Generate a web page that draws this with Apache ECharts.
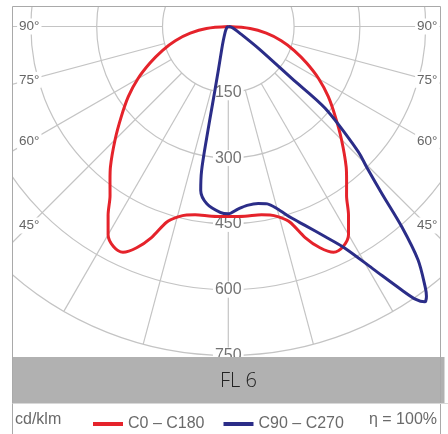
<!DOCTYPE html>
<html>
<head>
<meta charset="utf-8">
<script src="https://cdn.jsdelivr.net/npm/echarts@6/dist/echarts.min.js"></script>
<style>
html,body{margin:0;padding:0;background:#fff;}
#chart{width:448px;height:434px;}
</style>
</head>
<body>
<div id="chart"></div>
<script>
// ---- data ----
const radialTicks = [150, 300, 450, 600, 750];
const spokeAngles = [-90, -75, -60, -45, -30, -15, 0, 15, 30, 45, 60, 75, 90];
const degreeLabelAngles = [90, 75, 60, 45];
const degreeLabels = ['90°', '75°', '60°', '45°'];
const title = 'FL 6';
const unitLabel = 'cd/klm';
const efficiencyLabel = 'η = 100%';
const seriesNames = ['C0 – C180', 'C90 – C270'];

// C0 - C180 (symmetric), angle from nadir
const redAngles = [0, 5, 10, 12.5, 15, 17.5, 20, 22.5, 25, 27.5, 30, 32.5, 35, 37.5, 40, 45, 50, 55, 60, 65, 70, 75, 80, 85, 90];
const redValues = [433, 434, 436, 440, 450, 468, 512, 546, 568, 566, 548, 510, 470, 443, 418, 365, 318, 278, 238, 197, 160, 125, 88, 50, 0];

// C90 side (right)
const blueRightAngles = [0, 3, 6, 9.6, 12.4, 15, 18.3, 21, 24.7, 27.75, 31, 33.35, 34.5, 35.5, 36.3, 37.1, 39.1, 40.9, 42.6, 44.6, 46.1, 49.8, 50.7, 54, 60, 70, 80, 90];
const blueRightValues = [427, 417, 410, 409, 414, 430, 460, 485, 527, 571, 648, 719, 755, 771, 763, 744, 686, 604, 517, 448, 411, 289, 187, 85, 30, 12, 5, 0];
// C270 side (left)
const blueLeftAngles = [2.5, 6.9, 9.55, 10.5, 11, 11.5, 12.8, 16, 19.6, 30, 45, 60, 90];
const blueLeftValues = [424, 407, 379, 334, 257, 180, 103, 55, 34, 14, 6, 3, 0];

// ---- layout ----
const CX = 228.3, CY = 26.5, R = 329;
const RMAX = 750;
const DATA_MAX = 900;
const FRAME = {x: 12.5, y: 6.5, r: 440.5};
const BAND = {y: 357, h: 46};

function leftAng(t) { return t === 0 ? 0 : 360 - t; }

const redData = [];
for (let i = redAngles.length - 1; i >= 0; i--) redData.push([redValues[i], leftAng(redAngles[i])]);
for (let i = 1; i < redAngles.length; i++) redData.push([redValues[i], redAngles[i]]);

const blueData = [];
for (let i = blueLeftAngles.length - 1; i >= 0; i--) blueData.push([blueLeftValues[i], leftAng(blueLeftAngles[i])]);
for (let i = 0; i < blueRightAngles.length; i++) blueData.push([blueRightValues[i], blueRightAngles[i]]);

const gridColor = '#c4c4c4';
const hiddenAngle = {type: 'value', min: 0, max: 360, startAngle: 270, clockwise: false,
  axisLine: {show: false}, axisTick: {show: false}, axisLabel: {show: false}, splitLine: {show: false}};

const spokeSeries = spokeAngles.map(a => ({
  type: 'line', coordinateSystem: 'polar', polarIndex: 0, silent: true, z: 1,
  symbol: 'none', animation: false,
  lineStyle: {color: gridColor, width: 1.2},
  data: [[radialTicks[0], a < 0 ? 360 + a : a], [radialTicks[radialTicks.length - 1], a < 0 ? 360 + a : a]]
}));

const fontFam = '"Liberation Sans", Arial, sans-serif';
const graphics = [];
// degree labels at both frame edges
degreeLabelAngles.forEach((a, i) => {
  const d = 199;
  const y = CY + d / Math.tan(a * Math.PI / 180);
  [CX - d, CX + d].forEach(x => {
    graphics.push({type: 'text', z: 100, x: x, y: y,
      style: {text: degreeLabels[i], fill: '#666', font: '13.5px ' + fontFam,
        align: 'center', verticalAlign: 'middle', backgroundColor: '#fff', padding: [1, 2]}});
  });
});
// masks outside the frame
graphics.push({type: 'rect', z: 120, shape: {x: 0, y: 0, width: 448, height: FRAME.y}, style: {fill: '#fff'}});
graphics.push({type: 'rect', z: 120, shape: {x: 0, y: 0, width: FRAME.x, height: 434}, style: {fill: '#fff'}});
graphics.push({type: 'rect', z: 120, shape: {x: FRAME.r, y: 0, width: 448 - FRAME.r, height: 434}, style: {fill: '#fff'}});
// title band
graphics.push({type: 'rect', z: 130, shape: {x: FRAME.x, y: BAND.y, width: 432, height: BAND.h}, style: {fill: '#b1b1b1'}});
graphics.push({type: 'rect', z: 130, shape: {x: FRAME.x, y: BAND.y + BAND.h, width: 436, height: 40}, style: {fill: '#fff'}});
graphics.push({type: 'text', z: 140, x: 238.5, y: BAND.y + BAND.h / 2 + 1,
  style: {text: title, fill: '#222', font: '300 20px "Open Sans", sans-serif', align: 'center', verticalAlign: 'middle'}});
// frame
graphics.push({type: 'rect', z: 150, shape: {x: FRAME.x, y: FRAME.y, width: FRAME.r - FRAME.x, height: 460},
  style: {fill: 'none', stroke: '#a9a9a9', lineWidth: 1}});
graphics.push({type: 'line', z: 150, shape: {x1: FRAME.x, y1: BAND.y + BAND.h + 0.5, x2: 448, y2: BAND.y + BAND.h + 0.5},
  style: {stroke: '#d8d8d8', lineWidth: 1}});
// legend side texts
graphics.push({type: 'text', z: 160, x: 15, y: 420,
  style: {text: unitLabel, fill: '#6a6a6a', font: '16px ' + fontFam, align: 'left', verticalAlign: 'middle'}});
graphics.push({type: 'text', z: 160, x: 437, y: 420,
  style: {text: efficiencyLabel, fill: '#6a6a6a', font: '16px ' + fontFam, align: 'right', verticalAlign: 'middle'}});

const chart = echarts.init(document.getElementById('chart'), null, {renderer: 'canvas'});
chart.setOption({
  animation: false,
  backgroundColor: '#fff',
  polar: [
    {center: [CX, CY], radius: R},
    {center: [CX, CY], radius: R},
    {center: [CX, CY], radius: R * DATA_MAX / RMAX}
  ],
  angleAxis: [
    Object.assign({polarIndex: 0}, hiddenAngle),
    Object.assign({polarIndex: 1}, hiddenAngle),
    Object.assign({polarIndex: 2}, hiddenAngle)
  ],
  radiusAxis: [
    {polarIndex: 0, min: 0, max: RMAX, interval: 150, z: 1,
      axisLine: {show: false}, axisTick: {show: false}, axisLabel: {show: false},
      splitLine: {show: true, lineStyle: {color: gridColor, width: 1.2}}},
    {polarIndex: 1, min: 0, max: RMAX, interval: 150, z: 3,
      axisLine: {show: false}, axisTick: {show: false}, splitLine: {show: false},
      axisLabel: {show: true, showMinLabel: false, showMaxLabel: true, margin: 0,
        align: 'center', verticalAlign: 'middle', color: '#737373', fontSize: 16,
        fontFamily: fontFam, backgroundColor: '#fff', padding: [0, 2],
        formatter: v => (radialTicks.indexOf(v) >= 0 ? String(v) : '')}},
    {polarIndex: 2, min: 0, max: DATA_MAX, z: 0,
      axisLine: {show: false}, axisTick: {show: false}, axisLabel: {show: false}, splitLine: {show: false}}
  ],
  legend: {
    data: seriesNames, left: 88, top: 411, z: 200, selectedMode: false,
    icon: 'rect', itemWidth: 30, itemHeight: 4, itemGap: 19,
    textStyle: {color: '#6a6a6a', fontSize: 16, fontFamily: fontFam}
  },
  graphic: {elements: graphics},
  series: spokeSeries.concat([
    {name: seriesNames[0], type: 'line', coordinateSystem: 'polar', polarIndex: 2, z: 5,
      symbol: 'none', smooth: 0.3, color: '#e5232b',
      lineStyle: {color: '#e5232b', width: 3}, data: redData},
    {name: seriesNames[1], type: 'line', coordinateSystem: 'polar', polarIndex: 2, z: 6,
      symbol: 'none', smooth: 0.3, color: '#2b2d88',
      lineStyle: {color: '#2b2d88', width: 3}, data: blueData}
  ])
});
</script>
</body>
</html>
